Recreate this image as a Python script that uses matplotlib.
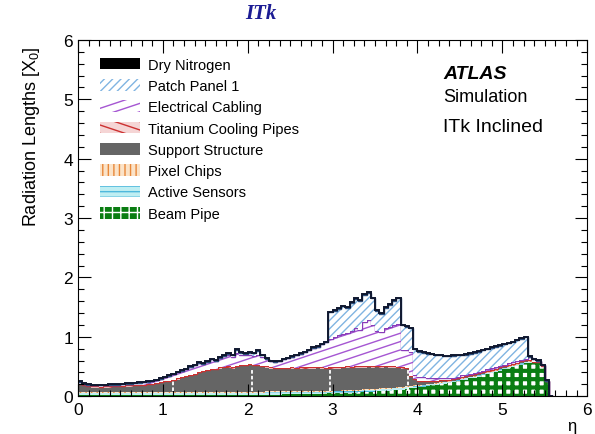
import warnings
import numpy as np
import matplotlib
matplotlib.use('Agg')
import matplotlib.pyplot as plt
from matplotlib import hatch as mhatch
from matplotlib.path import Path
from matplotlib.patches import Patch
from matplotlib.ticker import MultipleLocator

warnings.filterwarnings('ignore', category=matplotlib.MatplotlibDeprecationWarning)

# eta bins, 0.05 wide, 0 .. 5.6
eta_edges = np.linspace(0.0, 5.6, 113)

# thickness of each material layer per bin (X0), bottom to top
beam_pipe = ([0.02] * 40 +
             [0.02, 0.02, 0.02, 0.02, 0.025, 0.025, 0.025, 0.025, 0.03, 0.03,
              0.03, 0.03, 0.035, 0.035, 0.035, 0.04, 0.04, 0.04, 0.045, 0.045] +
             [0.05, 0.05, 0.055, 0.055, 0.06, 0.06, 0.065, 0.07, 0.07, 0.075,
              0.08, 0.085, 0.09, 0.095, 0.10, 0.105, 0.11, 0.12, 0.13, 0.14] +
             [0.15, 0.16, 0.17, 0.18, 0.19, 0.20, 0.21, 0.22, 0.23, 0.25,
              0.27, 0.28, 0.30, 0.31, 0.33, 0.35, 0.37, 0.39, 0.41, 0.43] +
             [0.45, 0.47, 0.49, 0.51, 0.53, 0.55, 0.56, 0.57, 0.57, 0.50, 0.25, 0.0])
active_sensors = [0.04] * 54 + [0.03] * 26 + [0.02] * 27 + [0.0] * 5
pixel_chips = [0.015] * 80 + [0.01] * 27 + [0.0] * 5
support = ([0.105, 0.095, 0.08, 0.07, 0.07, 0.065, 0.07, 0.07, 0.075, 0.075,
            0.08, 0.085, 0.085, 0.09, 0.095, 0.10, 0.11, 0.115, 0.125, 0.14,
            0.155, 0.165, 0.185, 0.205, 0.225, 0.24, 0.265, 0.285, 0.31, 0.325,
            0.345, 0.36, 0.365, 0.385, 0.395, 0.40, 0.39, 0.415, 0.425, 0.43,
            0.445, 0.425, 0.43, 0.415, 0.395, 0.38, 0.375, 0.37, 0.37, 0.365,
            0.375, 0.37, 0.37, 0.375, 0.38, 0.38, 0.385, 0.375, 0.365, 0.37,
            0.365, 0.37, 0.37, 0.375, 0.365, 0.375, 0.365, 0.365, 0.37, 0.36,
            0.36, 0.35, 0.35, 0.34, 0.33, 0.32, 0.305, 0.285, 0.155, 0.095,
            0.07, 0.06, 0.05, 0.04, 0.03, 0.03, 0.02, 0.015, 0.015, 0.015] +
           [0.015] * 17 + [0.0] * 5)
cooling_pipes = [0.02] * 30 + [0.025] * 47 + [0.02, 0.015] + [0.01] * 28 + [0.0] * 5
cabling = ([0.04, 0.02, 0.015, 0.015, 0.015, 0.02, 0.02, 0.025, 0.02, 0.025,
            0.025, 0.025, 0.03, 0.03, 0.03, 0.035, 0.035, 0.04, 0.05, 0.055,
            0.07, 0.08, 0.09, 0.10, 0.11, 0.115, 0.13, 0.14, 0.155, 0.12,
            0.135, 0.16, 0.135, 0.165, 0.185, 0.19, 0.17, 0.205, 0.165, 0.16,
            0.155, 0.155, 0.17, 0.145, 0.13, 0.105, 0.10, 0.115, 0.14, 0.165,
            0.175, 0.21, 0.225, 0.25, 0.285, 0.32, 0.335, 0.385, 0.43, 0.475,
            0.515, 0.54, 0.555, 0.56, 0.605, 0.645, 0.62, 0.745, 0.77, 0.695,
            0.59, 0.575, 0.64, 0.665, 0.70, 0.725, 0.295, 0.30, 0.405, 0.07,
            0.07, 0.06, 0.05, 0.045, 0.04, 0.035, 0.03, 0.03, 0.025, 0.025] +
           [0.025] * 16 + [0.045, 0.05, 0.03, 0.02, 0.01, 0.0])
patch_panel = ([0.0] * 35 +
               [0.02, 0.03, 0.06, 0.04, 0.02, 0.03, 0.04, 0.06, 0.03] +
               [0.0] * 15 +
               [0.45, 0.44, 0.44, 0.46, 0.43, 0.47, 0.49, 0.49, 0.46, 0.46, 0.45,
                0.34, 0.31, 0.34, 0.37, 0.41, 0.43, 0.41, 0.40, 0.39, 0.43,
                0.42, 0.41, 0.40, 0.40, 0.39, 0.38, 0.37, 0.365, 0.37, 0.36,
                0.34, 0.34, 0.33, 0.34, 0.34, 0.34, 0.34, 0.34, 0.34, 0.34,
                0.34, 0.34, 0.34, 0.35, 0.36, 0.36] +
               [0.0] * 6)
dry_nitrogen = [0.01] * 111 + [0.0]

# white gaps seen in the support structure
gap_eta = [1.12, 2.05, 2.97, 3.89]
gap_top = [0.28, 0.47, 0.44, 0.44]


# shallow line hatches (electrical cabling "_" and cooling pipes "~")
class ShallowHatch(mhatch.HatchPatternBase):
    char = '_'
    sign = 1

    def __init__(self, hatch, density):
        n = int(hatch.count(self.char) * density)
        self.rise = round(0.3 * n) / n if n else 0
        k = int(np.ceil(self.rise * n)) if n else 0
        self.offsets = np.arange(-k, n) / n if n else []
        self.num_vertices = 2 * len(self.offsets)

    def set_vertices_and_codes(self, vertices, codes):
        for j, y0 in enumerate(self.offsets):
            if self.sign > 0:
                vertices[2 * j] = (0, y0)
                vertices[2 * j + 1] = (1, y0 + self.rise)
            else:
                vertices[2 * j] = (0, y0 + self.rise)
                vertices[2 * j + 1] = (1, y0)
        codes[0::2] = Path.MOVETO
        codes[1::2] = Path.LINETO


class ShallowDownHatch(ShallowHatch):
    char = '~'
    sign = -1


mhatch._hatch_types.append(ShallowHatch)
mhatch._hatch_types.append(ShallowDownHatch)

plt.rcParams['font.family'] = ['Liberation Sans', 'DejaVu Sans']
plt.rcParams['mathtext.fontset'] = 'custom'
plt.rcParams['mathtext.rm'] = 'Liberation Sans'
plt.rcParams['mathtext.it'] = 'Liberation Sans:italic'
plt.rcParams['hatch.linewidth'] = 1.0

layers = [
    # label, values, face, hatch colour, hatch, hatch lw, top line colour
    ('Beam Pipe', beam_pipe, 'white', '#0a7d12', '++', 3.0, None),
    ('Active Sensors', active_sensors, '#bfeef2', '#4fb8dc', '---', 1.0, None),
    ('Pixel Chips', pixel_chips, '#fbe3c8', '#e8883a', '|||', 1.0, None),
    ('Support Structure', support, '#656565', '#656565', None, 1.0, None),
    ('Titanium Cooling Pipes', cooling_pipes, '#f5d5d5', '#cc3030', '~~', 1.0, '#cc3030'),
    ('Electrical Cabling', cabling, 'white', '#a556d2', '__', 1.0, '#8a3cb8'),
    ('Patch Panel 1', patch_panel, 'white', '#80b4e2', '////', 1.0, '#2a4c7a'),
    ('Dry Nitrogen', dry_nitrogen, 'black', 'black', None, 1.0, None),
]

fig = plt.figure(figsize=(5.95, 4.35), dpi=100)
ax = fig.add_axes([0.131, 0.087, 0.856, 0.819])

bottom = np.zeros(len(eta_edges) - 1)
handles = {}
for label, vals, face, hcol, hatch, hlw, topcol in layers:
    vals = np.asarray(vals)
    top = bottom + vals
    st = ax.stairs(top, eta_edges, baseline=bottom, fill=True, facecolor=face,
                   edgecolor=hcol, hatch=hatch, linewidth=0)
    if hasattr(st, 'set_hatch_linewidth'):
        st.set_hatch_linewidth(hlw)
    if topcol is not None:
        ax.stairs(top, eta_edges, baseline=None, color=topcol, linewidth=1.0)
    if label == 'Beam Pipe':
        # legend swatch: green block with a white grid
        h = Patch(facecolor=hcol, edgecolor='white', hatch='++', linewidth=0)
    else:
        h = Patch(facecolor=face, edgecolor=hcol, hatch=hatch, linewidth=0)
    handles[label] = h
    bottom = top

# outline of the total
ax.stairs(bottom, eta_edges, baseline=None, color='#101830', linewidth=1.4)

ax.vlines(gap_eta, 0.09, gap_top, colors='white', linestyles=(0, (2, 1.2)),
          linewidth=1.3)

ax.set_xlim(0, 6)
ax.set_ylim(0, 6)
ax.xaxis.set_major_locator(MultipleLocator(1))
ax.xaxis.set_minor_locator(MultipleLocator(0.125))
ax.yaxis.set_major_locator(MultipleLocator(1))
ax.yaxis.set_minor_locator(MultipleLocator(0.2))
ax.tick_params(which='both', direction='in', top=True, right=True, labelsize=12.5)
ax.tick_params(which='major', length=9, width=0.8)
ax.tick_params(which='minor', length=4.5, width=0.8)
ax.tick_params(axis='x', pad=4)
for sp in ax.spines.values():
    sp.set_linewidth(0.8)

ax.set_ylabel('Radiation Lengths [X$_0$]', fontsize=13, loc='top')
ax.yaxis.set_label_coords(-0.07, 0.985)
ax.set_xlabel('η', fontsize=12)
ax.xaxis.set_label_coords(0.969, -0.062)

order = ['Dry Nitrogen', 'Patch Panel 1', 'Electrical Cabling',
         'Titanium Cooling Pipes', 'Support Structure', 'Pixel Chips',
         'Active Sensors', 'Beam Pipe']
ax.legend([handles[k] for k in order], order, loc='upper left',
          bbox_to_anchor=(0.044, 0.95), frameon=False, fontsize=10.5,
          handlelength=2.7, handleheight=0.85, handletextpad=0.55,
          labelspacing=0.5, borderpad=0, borderaxespad=0)

ax.text(0.717, 0.905, 'ATLAS', transform=ax.transAxes, fontsize=14,
        fontweight='bold', fontstyle='italic', va='center')
ax.text(0.717, 0.84, 'Simulation', transform=ax.transAxes, fontsize=13,
        va='center')
ax.text(0.717, 0.756, 'ITk Inclined', transform=ax.transAxes, fontsize=14,
        va='center')

fig.text(0.439, 0.968, 'ITk', fontsize=15, fontweight='bold', fontstyle='italic',
         family='Liberation Serif', color='#1c1c94', ha='center', va='center')

fig.savefig('out.png', dpi=100)
